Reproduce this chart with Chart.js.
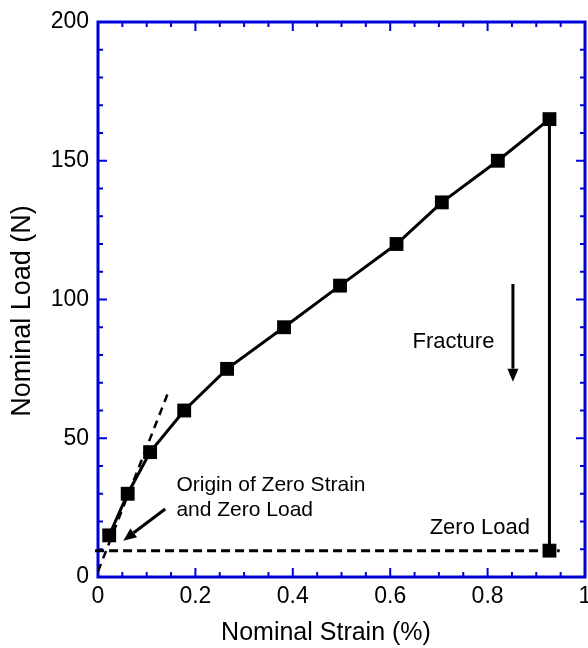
<!DOCTYPE html>
<html>
<head>
<meta charset="utf-8">
<script src="https://cdn.jsdelivr.net/npm/chart.js@4.4.1/dist/chart.umd.min.js"></script>
<style>
  html, body { margin: 0; padding: 0; background: #fff; }
  canvas { display: block; }
</style>
</head>
<body>
<canvas id="chart" width="588" height="648"></canvas>
<script>
// load / strain readings
const strain = [0.023, 0.061, 0.107, 0.177, 0.265, 0.382, 0.497, 0.613, 0.706, 0.821, 0.927, 0.927];
const load = [15, 30, 45, 60, 75, 90, 105, 120, 135, 150, 165, 9.5];

// zero load reference and the initial tangent
const zeroStrain = [-0.006, 0.948];
const zeroLoad = [9.5, 9.5];
const tangentStrain = [0, 0.143];
const tangentLoad = [2, 66];

const xTicks = [0, 0.2, 0.4, 0.6, 0.8, 1];
const xTickLabels = ['0', '0.2', '0.4', '0.6', '0.8', '1'];
const yTicks = [0, 50, 100, 150, 200];
const yTickLabels = ['0', '50', '100', '150', '200'];

const FONT = '"Liberation Sans", Arial, sans-serif';
const AXIS_BLUE = '#0000d8';

// notes and arrows, in data units
const notes = [
  { lines: ['Origin of Zero Strain', 'and Zero Load'], x: 0.161, y: [33.2, 24.1], align: 'left', size: 21 },
  { lines: ['Fracture'], x: 0.814, y: [84.8], align: 'right', size: 22 },
  { lines: ['Zero Load'], x: 0.681, y: [17.7], align: 'left', size: 22 }
];
const arrows = [
  { from: [0.852, 105.6], to: [0.852, 70.4] },
  { from: [0.138, 24.5], to: [0.052, 13.1] }
];

const toPoints = (xs, ys) => xs.map((v, i) => ({ x: v, y: ys[i] }));

// blue box with inward ticks on all four sides
const framePlugin = {
  id: 'frame',
  beforeDatasetsDraw(chart) {
    const { ctx, chartArea: a, scales: { x, y } } = chart;
    ctx.save();
    ctx.strokeStyle = AXIS_BLUE;
    ctx.lineWidth = 2;
    ctx.beginPath();
    for (let i = 0; i <= 20; i++) {
      const px = x.getPixelForValue(i * 0.05);
      const len = i % 4 === 0 ? 9 : 5;
      ctx.moveTo(px, a.bottom); ctx.lineTo(px, a.bottom - len);
      ctx.moveTo(px, a.top); ctx.lineTo(px, a.top + len);
    }
    for (let i = 0; i <= 20; i++) {
      const py = y.getPixelForValue(i * 10);
      const len = i % 5 === 0 ? 9 : 5;
      ctx.moveTo(a.left, py); ctx.lineTo(a.left + len, py);
      ctx.moveTo(a.right, py); ctx.lineTo(a.right - len, py);
    }
    ctx.stroke();
    ctx.lineWidth = 3;
    ctx.strokeRect(a.left, a.top, a.right - a.left, a.bottom - a.top);
    ctx.restore();
  },
  afterDraw(chart) {
    const { ctx, chartArea: a, scales: { x, y } } = chart;
    ctx.save();
    ctx.fillStyle = '#000';
    ctx.strokeStyle = '#000';
    ctx.textBaseline = 'middle';

    // x tick labels (drawn here so the last one may run off the edge)
    ctx.font = '23px ' + FONT;
    ctx.textAlign = 'center';
    xTicks.forEach((v, i) => ctx.fillText(xTickLabels[i], x.getPixelForValue(v), a.bottom + 20));

    // axis titles
    ctx.font = '25px ' + FONT;
    ctx.fillText('Nominal Strain (%)', 326, 633);
    ctx.save();
    ctx.translate(23, 311);
    ctx.rotate(-Math.PI / 2);
    ctx.font = '27px ' + FONT;
    ctx.fillText('Nominal Load (N)', 0, 0);
    ctx.restore();

    notes.forEach(n => {
      ctx.font = n.size + 'px ' + FONT;
      ctx.textAlign = n.align;
      n.lines.forEach((t, i) => ctx.fillText(t, x.getPixelForValue(n.x), y.getPixelForValue(n.y[i])));
    });

    arrows.forEach(ar => {
      const x1 = x.getPixelForValue(ar.from[0]), y1 = y.getPixelForValue(ar.from[1]);
      const x2 = x.getPixelForValue(ar.to[0]), y2 = y.getPixelForValue(ar.to[1]);
      const ang = Math.atan2(y2 - y1, x2 - x1);
      const head = 13, half = 5.5;
      const bx = x2 - head * Math.cos(ang), by = y2 - head * Math.sin(ang);
      ctx.lineWidth = 3;
      ctx.beginPath();
      ctx.moveTo(x1, y1);
      ctx.lineTo(bx, by);
      ctx.stroke();
      ctx.beginPath();
      ctx.moveTo(x2, y2);
      ctx.lineTo(bx + half * Math.sin(ang), by - half * Math.cos(ang));
      ctx.lineTo(bx - half * Math.sin(ang), by + half * Math.cos(ang));
      ctx.closePath();
      ctx.fill();
    });
    ctx.restore();
  }
};

new Chart(document.getElementById('chart'), {
  type: 'scatter',
  data: {
    datasets: [
      {
        data: toPoints(strain, load),
        showLine: true,
        borderColor: '#000',
        backgroundColor: '#000',
        borderWidth: 3,
        pointStyle: 'rect',
        pointRadius: 9.8,
        pointBorderWidth: 0
      },
      {
        data: toPoints(zeroStrain, zeroLoad),
        showLine: true,
        borderColor: '#000',
        borderWidth: 3,
        borderDash: [9, 5],
        pointRadius: 0,
        clip: false
      },
      {
        data: toPoints(tangentStrain, tangentLoad),
        showLine: true,
        borderColor: '#000',
        borderWidth: 2.5,
        borderDash: [8, 6],
        pointRadius: 0
      }
    ]
  },
  options: {
    responsive: false,
    animation: false,
    layout: { autoPadding: false, padding: { top: 22, right: 3, left: 0, bottom: 0 } },
    plugins: { legend: { display: false }, tooltip: { enabled: false } },
    scales: {
      x: {
        type: 'linear',
        min: 0,
        max: 1,
        grid: { display: false, drawTicks: false },
        border: { display: false },
        afterBuildTicks: s => { s.ticks = xTicks.map(v => ({ value: v })); },
        afterFit: s => { s.height = 71; },
        ticks: { display: false }
      },
      y: {
        type: 'linear',
        min: 0,
        max: 200,
        grid: { display: false, drawTicks: false },
        border: { display: false },
        afterBuildTicks: s => { s.ticks = yTicks.map(v => ({ value: v })); },
        afterFit: s => { s.width = 98; s.paddingTop = 0; s.paddingBottom = 0; },
        ticks: {
          color: '#000',
          font: { family: FONT, size: 23 },
          padding: 9,
          autoSkip: false,
          callback: (v, i) => yTickLabels[i]
        }
      }
    }
  },
  plugins: [framePlugin]
});
</script>
</body>
</html>
